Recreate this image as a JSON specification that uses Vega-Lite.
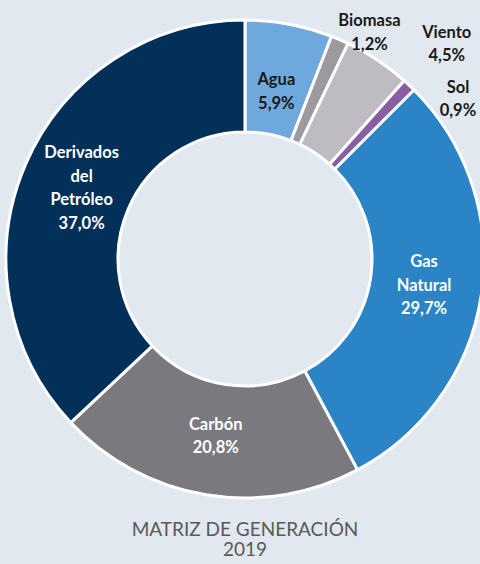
{
  "$schema": "https://vega.github.io/schema/vega-lite/v6.json",
  "width": 490,
  "height": 518,
  "autosize": "none",
  "padding": {"left": 0, "top": 0, "right": 0, "bottom": 46},
  "background": "#e1e8ef",
  "config": {"view": {"stroke": null}, "text": {"font": "Lato", "fontWeight": "bold", "fontSize": 16.5, "lineBreak": "\n", "lineHeight": 23.5, "baseline": "middle", "align": "center"}},
  "title": {
    "text": ["MATRIZ DE GENERACIÓN", "2019"],
    "orient": "bottom",
    "anchor": "middle",
    "font": "Lato",
    "fontSize": 19,
    "fontWeight": "normal",
    "color": "#595959",
    "lineHeight": 19.5,
    "offset": 3
  },
  "data": {
    "values": [
      {"name": "Agua", "value": 5.9, "order": 1, "label": "Agua\n5,9%"},
      {"name": "Biomasa", "value": 1.2, "order": 2, "label": "Biomasa\n1,2%"},
      {"name": "Viento", "value": 4.5, "order": 3, "label": "Viento\n4,5%"},
      {"name": "Sol", "value": 0.9, "order": 4, "label": "Sol\n0,9%"},
      {"name": "Gas Natural", "value": 29.7, "order": 5, "label": "Gas\nNatural\n29,7%"},
      {"name": "Carbón", "value": 20.8, "order": 6, "label": "Carbón\n20,8%"},
      {"name": "Derivados del Petróleo", "value": 37.0, "order": 7, "label": "Derivados\ndel\nPetróleo\n37,0%"}
    ]
  },
  "encoding": {
    "theta": {"field": "value", "type": "quantitative", "stack": true},
    "order": {"field": "order", "type": "quantitative"}
  },
  "layer": [
    {
      "mark": {"type": "arc", "outerRadius": 239, "innerRadius": 127, "stroke": "white", "strokeWidth": 3},
      "encoding": {
        "color": {
          "field": "name",
          "type": "nominal",
          "legend": null,
          "scale": {
            "domain": ["Agua", "Biomasa", "Viento", "Sol", "Gas Natural", "Carbón", "Derivados del Petróleo"],
            "range": ["#6fa8dc", "#9d9a9f", "#bebcc2", "#8a5ea5", "#2a84c6", "#7a797e", "#033059"]
          }
        }
      }
    },
    {
      "mark": {"type": "text", "clip": true, "radius": 170, "dy": -11.75, "color": "#1a1a1a"},
      "encoding": {
        "text": {"condition": {"test": "datum.name == 'Agua'", "field": "label"}, "value": ""}
      }
    },
    {
      "mark": {"type": "text", "clip": true, "radius": 180, "dy": -11.75, "color": "white"},
      "encoding": {
        "text": {"condition": {"test": "datum.name == 'Carbón'", "field": "label"}, "value": ""}
      }
    },
    {
      "mark": {"type": "text", "clip": true, "radius": 181, "dy": -23.5, "color": "white"},
      "encoding": {
        "text": {"condition": {"test": "datum.name == 'Gas Natural'", "field": "label"}, "value": ""}
      }
    },
    {
      "mark": {"type": "text", "clip": true, "radius": 178, "dy": -35.25, "color": "white"},
      "encoding": {
        "text": {"condition": {"test": "datum.name == 'Derivados del Petróleo'", "field": "label"}, "value": ""}
      }
    },
    {
      "mark": {"type": "text", "clip": true, "radius": 258, "dx": 22, "dy": -1, "color": "#1a1a1a"},
      "encoding": {
        "text": {"condition": {"test": "datum.name == 'Biomasa'", "field": "label"}, "value": ""}
      }
    },
    {
      "mark": {"type": "text", "clip": true, "radius": 290, "dx": 41, "dy": 15, "color": "#1a1a1a"},
      "encoding": {
        "text": {"condition": {"test": "datum.name == 'Viento'", "field": "label"}, "value": ""}
      }
    },
    {
      "mark": {"type": "text", "clip": true, "radius": 262, "dx": 33, "dy": 19, "color": "#1a1a1a"},
      "encoding": {
        "text": {"condition": {"test": "datum.name == 'Sol'", "field": "label"}, "value": ""}
      }
    }
  ]
}
